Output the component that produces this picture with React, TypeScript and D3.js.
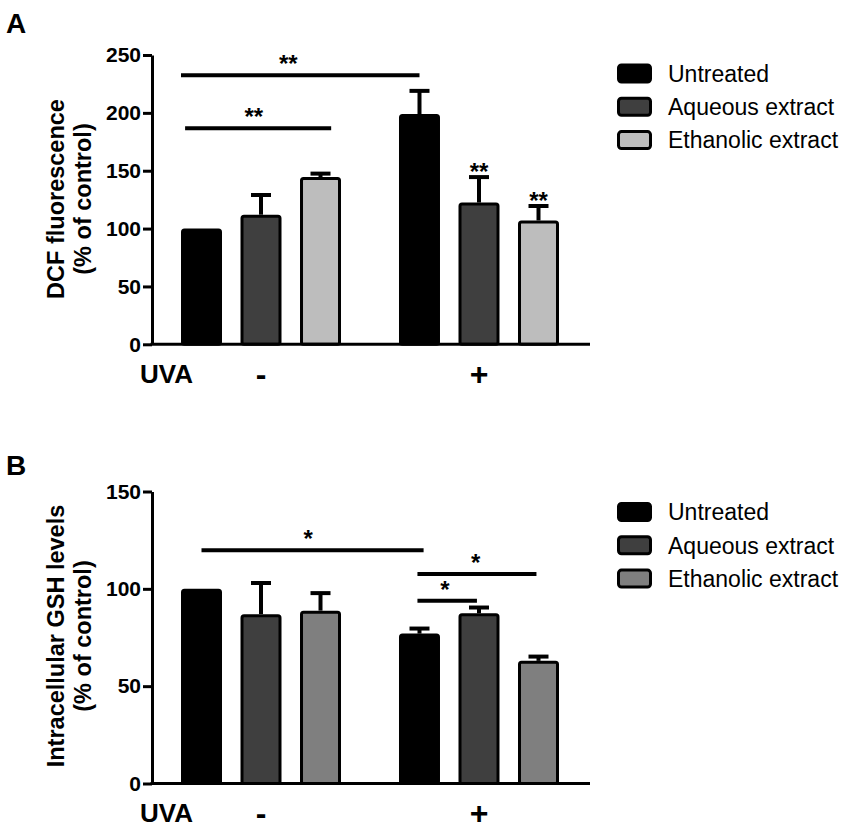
import { useEffect, useRef } from "react"
import * as d3 from "d3"

const groups = ["-", "+"]
const series = ["Untreated", "Aqueous extract", "Ethanolic extract"]

// [group][series]
const dcfMean = [
  [100, 112, 144.5],
  [199, 122.5, 107],
]
const dcfErr = [
  [0, 17, 3],
  [20, 22, 12.5],
]
const dcfStars = [
  ["", "", ""],
  ["", "**", "**"],
]
const dcfTicks = [0, 50, 100, 150, 200, 250]

const gshMean = [
  [100, 87, 88.8],
  [77, 87.4, 63],
]
const gshErr = [
  [0, 16, 9],
  [2.6, 3, 2.2],
]
const gshStars = [
  ["", "", ""],
  ["", "", ""],
]
const gshTicks = [0, 50, 100, 150]

// brackets: from/to = [group, series, fraction of bar width], y in data units
const dcfBrackets = [
  { from: [0, 0, 0], to: [1, 0, 0.5], y: 232.5, label: "**", at: 0.45 },
  { from: [0, 0, 0.1], to: [0, 2, 0.76], y: 186.7, label: "**", at: 0.47 },
]
const gshBrackets = [
  { from: [0, 0, 0.5], to: [1, 0, 0.6], y: 119.8, label: "*", at: 0.48 },
  { from: [1, 0, 0.45], to: [1, 2, 0.45], y: 107.6, label: "*", at: 0.49 },
  { from: [1, 0, 0.45], to: [1, 1, 0.45], y: 93.9, label: "*", at: 0.46 },
]

const fillsA = ["#000000", "#3f3f3f", "#bdbdbd"]
const fillsB = ["#000000", "#3f3f3f", "#7f7f7f"]

const FONT = "Arial, 'Liberation Sans', Helvetica, sans-serif"

const panels = [
  {
    letter: "A", letterY: 33,
    mean: dcfMean, err: dcfErr, stars: dcfStars, ticks: dcfTicks, brackets: dcfBrackets,
    fills: fillsA, yBottom: 344.3, yTop: 55, labelCy: 199,
    labels: ["DCF fluorescence", "(% of control)"],
    uvaY: 383, symY: 385, legendY: 73.5,
  },
  {
    letter: "B", letterY: 475,
    mean: gshMean, err: gshErr, stars: gshStars, ticks: gshTicks, brackets: gshBrackets,
    fills: fillsB, yBottom: 783.5, yTop: 491.5, labelCy: 636,
    labels: ["Intracellular GSH levels", "(% of control)"],
    uvaY: 822, symY: 824, legendY: 512,
  },
]

export default function App() {
  const svgRef = useRef<SVGSVGElement>(null)

  useEffect(() => {
    if (!svgRef.current) return
    const svg = d3.select(svgRef.current)
    svg.selectAll("*").remove()

    const axisX = 152
    const axisEnd = 590

    const x0 = d3.scaleBand<string>().domain(groups).range([181, 559]).paddingInner(0.266)
    const x1 = d3.scaleBand<string>().domain(series).range([0, x0.bandwidth()]).paddingInner(0.311)
    const bw = x1.bandwidth()
    const barX = (g: number, s: number) => (x0(groups[g]) ?? 0) + (x1(series[s]) ?? 0)
    const at = (p: number[]) => barX(p[0], p[1]) + p[2] * bw

    panels.forEach((p) => {
      const y = d3
        .scaleLinear()
        .domain([0, d3.max(p.ticks) as number])
        .range([p.yBottom, p.yTop])
      const g = svg.append("g").attr("font-family", FONT)

      // panel letter
      g.append("text")
        .attr("x", 6)
        .attr("y", p.letterY)
        .attr("font-size", 28)
        .attr("font-weight", "bold")
        .text(p.letter)

      // y axis
      const ax = g
        .append("g")
        .attr("transform", `translate(${axisX},0)`)
        .call(d3.axisLeft(y).tickValues(p.ticks).tickSize(9).tickSizeOuter(0).tickPadding(2))
      ax.select(".domain").attr("stroke", "#000").attr("stroke-width", 3)
      ax.selectAll(".tick line").attr("stroke", "#000").attr("stroke-width", 3)
      ax.selectAll(".tick text")
        .attr("font-family", FONT)
        .attr("font-size", 21)
        .attr("font-weight", "bold")
        .attr("fill", "#000")

      // y label
      p.labels.forEach((l, i) => {
        g.append("text")
          .attr("transform", `translate(${64 + i * 27},${p.labelCy}) rotate(-90)`)
          .attr("text-anchor", "middle")
          .attr("font-size", 23.5)
          .attr("font-weight", "bold")
          .text(l)
      })

      // bars
      p.mean.forEach((row, gi) => {
        row.forEach((v, si) => {
          const bx = barX(gi, si)
          const cx = bx + bw / 2
          const e = p.err[gi][si]
          if (e > 0) {
            g.append("line")
              .attr("x1", cx).attr("x2", cx)
              .attr("y1", y(v)).attr("y2", y(v + e))
              .attr("stroke", "#000").attr("stroke-width", 4)
            g.append("line")
              .attr("x1", cx - 10).attr("x2", cx + 10)
              .attr("y1", y(v + e)).attr("y2", y(v + e))
              .attr("stroke", "#000").attr("stroke-width", 4)
          }
          g.append("rect")
            .attr("x", bx + 1.5)
            .attr("y", y(v) + 1.5)
            .attr("width", bw - 3)
            .attr("height", y(0) - y(v) - 1.5)
            .attr("rx", 2)
            .attr("fill", p.fills[si])
            .attr("stroke", "#000")
            .attr("stroke-width", 3)
          const st = p.stars[gi][si]
          if (st) {
            g.append("text")
              .attr("x", cx)
              .attr("y", y(v + e) + 3)
              .attr("text-anchor", "middle")
              .attr("font-size", 24)
              .attr("font-weight", "bold")
              .text(st)
          }
        })
      })

      // x axis line
      g.append("line")
        .attr("x1", axisX - 1.5).attr("x2", axisEnd)
        .attr("y1", y(0)).attr("y2", y(0))
        .attr("stroke", "#000").attr("stroke-width", 3)

      // significance brackets
      p.brackets.forEach((b) => {
        const xa = at(b.from)
        const xb = at(b.to)
        g.append("line")
          .attr("x1", xa).attr("x2", xb)
          .attr("y1", y(b.y)).attr("y2", y(b.y))
          .attr("stroke", "#000").attr("stroke-width", 4)
        g.append("text")
          .attr("x", xa + (xb - xa) * b.at)
          .attr("y", y(b.y) - 3)
          .attr("text-anchor", "middle")
          .attr("font-size", 24)
          .attr("font-weight", "bold")
          .text(b.label)
      })

      // UVA row
      g.append("text")
        .attr("x", 140)
        .attr("y", p.uvaY)
        .attr("font-size", 26)
        .attr("font-weight", "bold")
        .text("UVA")
      groups.forEach((gr) => {
        g.append("text")
          .attr("x", (x0(gr) ?? 0) + x0.bandwidth() / 2)
          .attr("y", p.symY)
          .attr("text-anchor", "middle")
          .attr("font-size", 32)
          .attr("font-weight", "bold")
          .text(gr)
      })

      // legend
      series.forEach((s, i) => {
        const ly = p.legendY + i * 33.3
        g.append("rect")
          .attr("x", 618.5)
          .attr("y", ly - 8.5)
          .attr("width", 32)
          .attr("height", 17)
          .attr("rx", 3)
          .attr("fill", p.fills[i])
          .attr("stroke", "#000")
          .attr("stroke-width", 3)
        g.append("text")
          .attr("x", 668)
          .attr("y", ly)
          .attr("dy", "0.36em")
          .attr("font-size", 23)
          .text(s)
      })
    })
  }, [])

  return (
    <svg
      ref={svgRef}
      width={851}
      height={833}
      style={{ position: "absolute", left: 0, top: 0, background: "#fff" }}
    />
  )
}
